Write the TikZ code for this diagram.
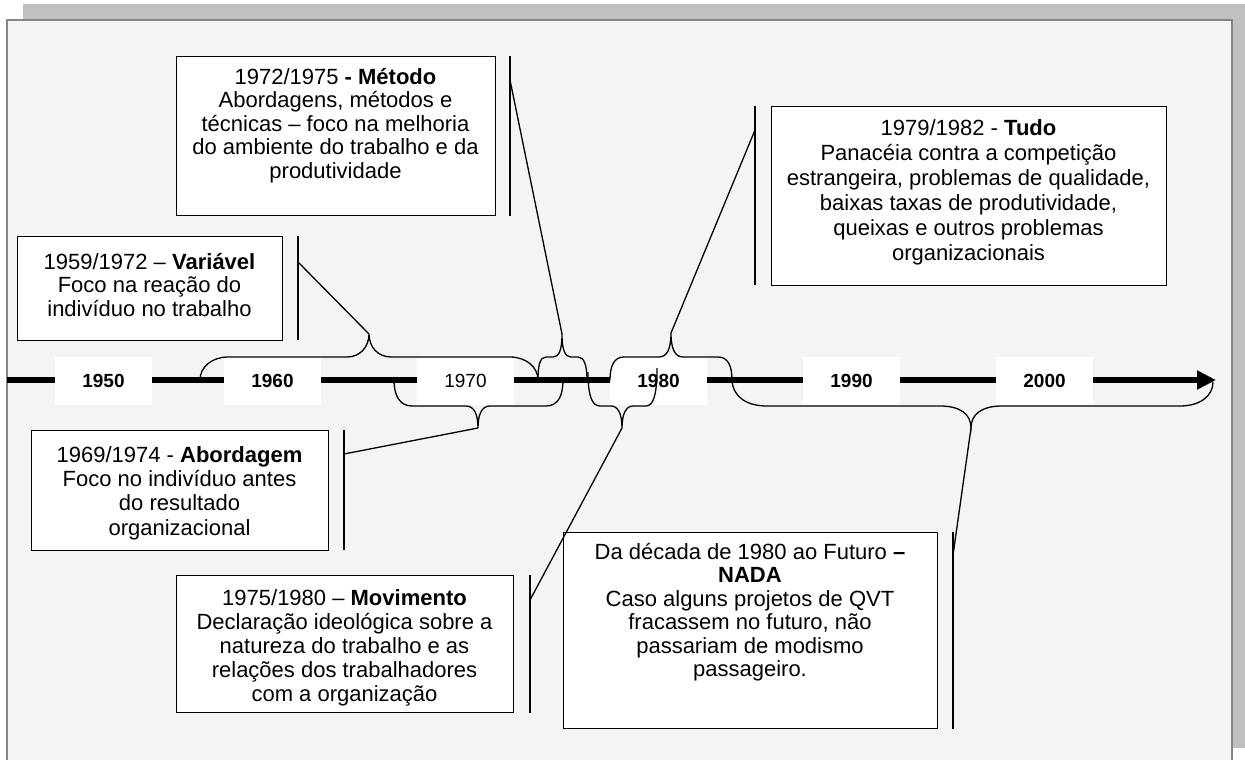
\documentclass[tikz,border=0pt]{standalone}
\usepackage{fontspec}
\setmainfont{Liberation Sans}
\usetikzlibrary{arrows.meta}
\definecolor{panelbg}{HTML}{F4F4F4}
\definecolor{shadowgray}{HTML}{C0C0C0}
\definecolor{framegray}{HTML}{858585}
\begin{document}
\begin{tikzpicture}[x=1pt,y=-1pt,
  callbox/.style={draw=black, line width=1.4pt, fill=white, inner sep=0pt, anchor=north west},
  calltext/.style={anchor=north, align=center, inner sep=0pt, font=\fontsize{22}{23.5}\selectfont},
  accent/.style={line width=1.4pt},
  leader/.style={line width=1.3pt},
  bracestyle/.style={line width=1.3pt},
  yearbox/.style={fill=white, minimum width=97pt, minimum height=48pt, inner sep=0pt, font=\fontsize{19}{22}\selectfont\bfseries},
]
\useasboundingbox (0,0) rectangle (1245,760);
\clip (0,0) rectangle (1245,760);

% frame with drop shadow
\fill[shadowgray] (23,4) rectangle (1245,748);
\draw[fill=panelbg, draw=framegray, line width=1.6pt] (7,20) rectangle (1232,764);

% time axis
\coordinate (axisstart) at (7,380);
\coordinate (axisend) at (1216,380);
\draw[line width=5.5pt, -{Triangle[length=19pt,width=18pt]}] (axisstart) -- (axisend);

% decade labels
\node[yearbox] (y1950) at (103.5,381) {1950};
\node[yearbox] (y1960) at (272.5,381) {1960};
\node[yearbox, font=\fontsize{19}{22}\selectfont] (y1970) at (465.5,381) {1970};
\node[yearbox] (y1980) at (658.5,381) {1980};
\node[yearbox] (y1990) at (851.5,381) {1990};
\node[yearbox] (y2000) at (1044.5,381) {2000};

% brace tips
\coordinate (tipA) at (369,334);
\coordinate (tipB) at (478,428);
\coordinate (tipC) at (562,334);
\coordinate (tipD) at (622,428);
\coordinate (tipE) at (671,333);
\coordinate (tipF) at (971,428);

% braces over the periods
\draw[bracestyle] (200,380) .. controls (200,367) and (212,357) .. (228,357) -- (347,357)
  .. controls (360,357) and (369,347) .. (tipA) .. controls (369,347) and (378,357) .. (391,357)
  -- (510,357) .. controls (526,357) and (538,367) .. (538,380);
\draw[bracestyle] (394,380) .. controls (394,396) and (400,406) .. (412,406) -- (466,406)
  .. controls (474,406) and (478,414) .. (tipB) .. controls (478,414) and (482,406) .. (490,406)
  -- (546,406) .. controls (558,406) and (563,396) .. (563,380);
\draw[bracestyle] (538,380) .. controls (538,365) and (540,357) .. (546,357) -- (553,357)
  .. controls (559,357) and (562,350) .. (tipC) .. controls (562,350) and (565,357) .. (571,357)
  -- (578,357) .. controls (584,357) and (587,365) .. (587,380);
\draw[bracestyle] (588,372) .. controls (588,396) and (592,406) .. (600,406) -- (611,406)
  .. controls (618,406) and (622,414) .. (tipD) .. controls (622,414) and (626,406) .. (633,406)
  -- (646,406) .. controls (653,406) and (657,396) .. (657,368);
\draw[bracestyle] (610,380) .. controls (610,366) and (614,357) .. (624,357) -- (659,357)
  .. controls (667,357) and (671,349) .. (tipE) .. controls (671,349) and (675,357) .. (683,357)
  -- (718,357) .. controls (728,357) and (732,366) .. (732,380);
\draw[bracestyle] (732,380) .. controls (733,398) and (748,406) .. (767,406) -- (940,406)
  .. controls (960,406) and (971,414) .. (tipF) .. controls (971,414) and (982,406) .. (1002,406)
  -- (1180,406) .. controls (1200,406) and (1213,396) .. (1213,382);

% callout boxes
\node[callbox, minimum width=265pt, minimum height=104pt] (variavel) at (17,236) {};
\node[calltext] (variavelT) at (149.5,253) {1959/1972 – \textbf{Variável}\\Foco na reação do\\indivíduo no trabalho};

\node[callbox, minimum width=319pt, minimum height=159pt] (metodo) at (176,56) {};
\node[calltext] (metodoT) at (335.5,68) {1972/1975 \textbf{- Método}\\Abordagens, métodos e\\técnicas – foco na melhoria\\do ambiente do trabalho e da\\produtividade};

\node[callbox, minimum width=395pt, minimum height=179pt] (tudo) at (771,106) {};
\node[calltext, font=\fontsize{22}{25}\selectfont] (tudoT) at (968.5,119) {1979/1982 - \textbf{Tudo}\\Panacéia contra a competição\\estrangeira, problemas de qualidade,\\baixas taxas de produtividade,\\queixas e outros problemas\\organizacionais};

\node[callbox, minimum width=297pt, minimum height=120pt] (abordagem) at (31,430) {};
\node[calltext, font=\fontsize{22}{24.3}\selectfont] (abordagemT) at (179.5,446) {1969/1974 - \textbf{Abordagem}\\Foco no indivíduo antes\\do resultado\\organizacional};

\node[callbox, minimum width=337pt, minimum height=137pt] (movimento) at (176,575) {};
\node[calltext, font=\fontsize{22}{24}\selectfont] (movimentoT) at (344.5,589) {1975/1980 – \textbf{Movimento}\\Declaração ideológica sobre a\\natureza do trabalho e as\\relações dos trabalhadores\\com a organização};

\node[callbox, minimum width=374pt, minimum height=196pt] (nada) at (563,532) {};
\node[calltext] (nadaT) at (750,543) {Da década de 1980 ao Futuro \textbf{–}\\\textbf{NADA}\\Caso alguns projetos de QVT\\fracassem no futuro, não\\passariam de modismo\\passageiro.};

% accent bars beside the boxes
\coordinate (accA1) at (298,236); \coordinate (accA2) at (298,340);
\coordinate (accC1) at (510,56);  \coordinate (accC2) at (510,216);
\coordinate (accE1) at (755,106); \coordinate (accE2) at (755,285);
\coordinate (accB1) at (344,430); \coordinate (accB2) at (344,550);
\coordinate (accD1) at (530,575); \coordinate (accD2) at (530,713);
\coordinate (accF1) at (953,532); \coordinate (accF2) at (953,729);
\foreach \a in {A,B,C,D,E,F} \draw[accent] (acc\a1) -- (acc\a2);

% leader lines from the bars to the braces
\coordinate (legA) at (298,262);
\coordinate (legC) at (510,80);
\coordinate (legE) at (755,130);
\coordinate (legB) at (344,454);
\coordinate (legD) at (530,600);
\coordinate (legF) at (953,555);
\foreach \a in {A,B,C,D,E,F} \draw[leader] (leg\a) -- (tip\a);
\end{tikzpicture}
\end{document}
